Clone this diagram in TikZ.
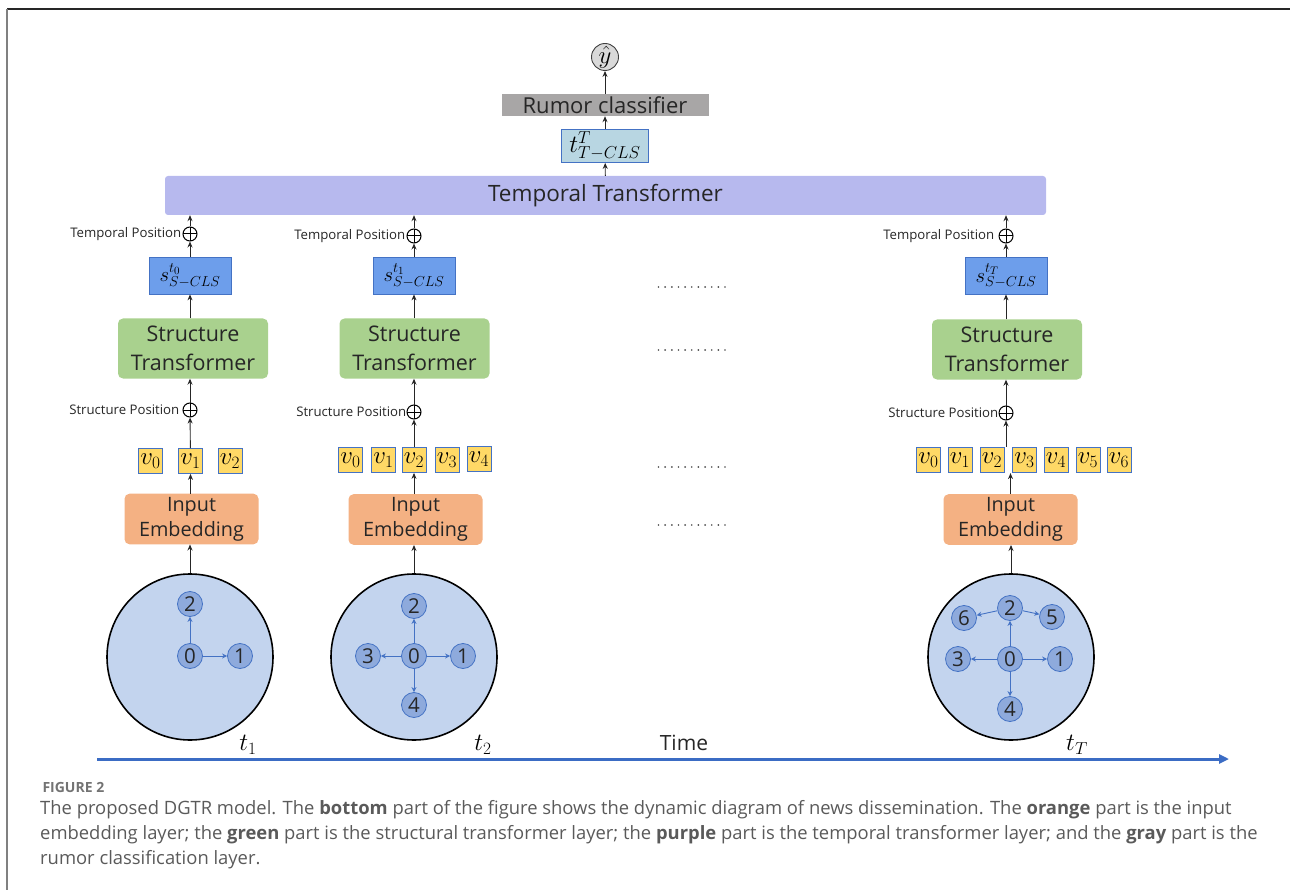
\documentclass[tikz,border=0pt]{standalone}
\usepackage{fontspec}
\setmainfont{Open Sans}
\newfontfamily\capfont{Open Sans}
\usetikzlibrary{arrows.meta,fit,calc}
\definecolor{purp}{HTML}{B7B9EE}
\definecolor{grn}{HTML}{A9D18E}
\definecolor{org}{HTML}{F4B183}
\definecolor{gold}{HTML}{FFD966}
\definecolor{sblue}{HTML}{6D9EEB}
\definecolor{tblue}{HTML}{B8D6E2}
\definecolor{bordblue}{HTML}{4472C4}
\definecolor{clsgray}{HTML}{A8A6A6}
\definecolor{bigfill}{HTML}{C3D4EE}
\definecolor{nodefill}{HTML}{8EAADC}
\definecolor{timeblue}{HTML}{3B6CC4}
\definecolor{captxt}{HTML}{5A5A5A}
\tikzset{
  arr/.style={-{Stealth[length=6pt,width=5pt]}, line width=0.9pt, draw=black!85},
  garr/.style={-{Stealth[length=5pt,width=5pt]}, line width=0.9pt, draw=bordblue},
  stbox/.style={draw=none, fill=grn, rounded corners=5pt, minimum width=150pt, minimum height=60pt, align=center, font=\fontsize{21.5}{29}\selectfont, text=black!85},
  iebox/.style={draw=none, fill=org, rounded corners=5pt, minimum width=134pt, minimum height=47pt, align=center, font=\fontsize{19.8}{25}\selectfont, text=black!85},
  sbox/.style={draw=bordblue, line width=0.8pt, fill=sblue, minimum width=82pt, minimum height=37pt, inner sep=0pt, font=\fontsize{22}{22}\selectfont},
  vbox/.style={draw=bordblue, line width=0.8pt, fill=gold, minimum width=24pt, minimum height=25pt, inner sep=0pt, font=\fontsize{23}{23}\selectfont},
  oplus/.style={circle, draw=black, line width=1pt, minimum size=14pt, inner sep=0pt,
     path picture={\draw[line width=1pt] (path picture bounding box.north) -- (path picture bounding box.south) (path picture bounding box.west) -- (path picture bounding box.east);}},
  poslab/.style={font=\fontsize{13.2}{13.2}\selectfont, text=black!85, inner sep=1pt},
  big/.style={circle, draw=black, line width=1.6pt, fill=bigfill, minimum size=166pt, inner sep=0pt},
  gnode/.style={circle, draw=bordblue, line width=0.8pt, fill=nodefill, minimum size=25pt, inner sep=0pt, font=\fontsize{20.5}{20.5}\selectfont, text=black!85},
  tlab/.style={font=\fontsize{24}{24}\selectfont, inner sep=0pt},
}
\begin{document}
\begin{tikzpicture}[x=1pt,y=-1pt]
\useasboundingbox (0,0) rectangle (1290,890);
% frame
\draw[line width=1.3pt, black!85] (7,9) -- (1290,9);
\draw[line width=1.6pt, black!50] (7,9) -- (7,890);

% top
\node[circle, draw=black!75, line width=0.9pt, fill=black!15, minimum size=27pt, inner sep=0pt, font=\fontsize{24}{24}\selectfont] (yhat) at (605,57) {$\hat{y}$};
\node[fill=clsgray, minimum width=207pt, minimum height=22pt, inner sep=0pt, font=\fontsize{22}{22}\selectfont, text=black!85] (cls) at (605,105) {Rumor classifier};
\node[draw=bordblue, line width=0.8pt, fill=tblue, minimum width=87pt, minimum height=33pt, inner sep=0pt, font=\fontsize{23}{23}\selectfont] (tcls) at (605,146) {$t^{T}_{T-CLS}$};
\node[fill=purp, rounded corners=3pt, minimum width=881pt, minimum height=39pt, inner sep=0pt, font=\fontsize{22.5}{22.5}\selectfont, text=black!85] (tt) at (605.5,195.5) {Temporal Transformer};
\draw[arr] (cls) -- (yhat);
\draw[arr] (tcls) -- (cls);
\draw[arr] (tt) -- (tcls);

% ---------- column 1 ----------
\node[oplus] (tp1) at (190,234) {};
\node[poslab, anchor=east] at (tp1.west) {Temporal Position};
\node[sbox] (s1) at (190,275.5) {$s^{t_0}_{S-CLS}$};
\node[stbox] (st1) at (193,348.5) {Structure\\Transformer};
\node[oplus] (sp1) at (190,410) {};
\node[poslab, anchor=east] at ($(sp1.west)+(-2,0)$) {Structure Position};
\node[vbox] (v10) at (150.5,461) {$v_0$};
\node[vbox] (v11) at (190.5,461) {$v_1$};
\node[vbox] (v12) at (230,461) {$v_2$};
\node[iebox] (ie1) at (191.5,519) {Input\\Embedding};
\node[big] (c1) at (190,657) {};
\node[gnode] (n10) at (190,656) {0};
\node[gnode] (n11) at (240,656) {1};
\node[gnode] (n12) at (190,604) {2};
\draw[garr] (n10) -- (n11);
\draw[garr] (n10) -- (n12);
\node[tlab] at (248,745) {$t_1$};
\draw[arr] (tp1) -- (tp1 |- tt.south);
\draw[arr] (s1) -- (tp1);
\draw[arr] (st1.north -| s1) -- (s1);
\draw[arr] (sp1) -- (sp1 |- st1.south);
\draw[arr] (v11) -- (sp1);
\draw[arr] (ie1.north -| v11) -- (v11);
\draw[arr] (c1) -- (c1 |- ie1.south);

% ---------- column 2 ----------
\node[oplus] (tp2) at (414,236) {};
\node[poslab, anchor=east] at (tp2.west) {Temporal Position};
\node[sbox] (s2) at (414,275.5) {$s^{t_1}_{S-CLS}$};
\node[stbox] (st2) at (414.5,348.5) {Structure\\Transformer};
\node[oplus] (sp2) at (414,412) {};
\node[poslab, anchor=east] at ($(sp2.west)+(1,0)$) {Structure Position};
\node[vbox] (v20) at (350.5,460) {$v_0$};
\node[vbox] (v21) at (383.5,460) {$v_1$};
\node[vbox] (v22) at (414,460) {$v_2$};
\node[vbox] (v23) at (447,460) {$v_3$};
\node[vbox] (v24) at (479,459) {$v_4$};
\node[iebox] (ie2) at (415.5,519.5) {Input\\Embedding};
\node[big] (c2) at (414,657) {};
\node[gnode] (n20) at (414,656) {0};
\node[gnode] (n21) at (463,656) {1};
\node[gnode] (n22) at (414,606) {2};
\node[gnode] (n23) at (368,656) {3};
\node[gnode] (n24) at (414,705) {4};
\draw[garr] (n20) -- (n21);
\draw[garr] (n20) -- (n22);
\draw[garr] (n20) -- (n23);
\draw[garr] (n20) -- (n24);
\node[tlab] at (483,745) {$t_2$};
\draw[arr] (tp2) -- (tp2 |- tt.south);
\draw[arr] (s2) -- (tp2);
\draw[arr] (st2.north -| s2) -- (s2);
\draw[arr] (sp2) -- (sp2 |- st2.south);
\draw[arr] (v22) -- (sp2);
\draw[arr] (ie2.north -| v22) -- (v22);
\draw[arr] (c2) -- (c2 |- ie2.south);

% ---------- column 3 ----------
\node[oplus] (tp3) at (1006,236) {};
\node[poslab, anchor=east] at ($(tp3.west)+(-3,0)$) {Temporal Position};
\node[sbox] (s3) at (1006,275.5) {$s^{t_T}_{S-CLS}$};
\node[stbox] (st3) at (1007,349.5) {Structure\\Transformer};
\node[oplus] (sp3) at (1006,413) {};
\node[poslab, anchor=east] at ($(sp3.west)+(1,0)$) {Structure Position};
\node[vbox] (v30) at (928.5,460) {$v_0$};
\node[vbox] (v31) at (960,460) {$v_1$};
\node[vbox] (v32) at (992,460) {$v_2$};
\node[vbox] (v33) at (1024.5,460) {$v_3$};
\node[vbox] (v34) at (1056,460) {$v_4$};
\node[vbox] (v35) at (1088,460) {$v_5$};
\node[vbox] (v36) at (1119,460) {$v_6$};
\node[inner sep=0pt, fit=(v30)(v36)] (row3) {};
\node[iebox] (ie3) at (1010.5,519.5) {Input\\Embedding};
\node[big] (c3) at (1011,657) {};
\node[gnode] (n30) at (1010,659) {0};
\node[gnode] (n31) at (1060,659) {1};
\node[gnode] (n32) at (1010,608) {2};
\node[gnode] (n33) at (958,659) {3};
\node[gnode] (n34) at (1010,709) {4};
\node[gnode] (n35) at (1052,617) {5};
\node[gnode] (n36) at (964,618) {6};
\draw[garr] (n30) -- (n31);
\draw[garr] (n30) -- (n32);
\draw[garr] (n30) -- (n33);
\draw[garr] (n30) -- (n34);
\draw[garr] (n32) -- (n35);
\draw[garr] (n32) -- (n36);
\node[tlab] at (1077,745) {$t_T$};
\draw[arr] (tp3) -- (tp3 |- tt.south);
\draw[arr] (s3) -- (tp3);
\draw[arr] (st3.north -| s3) -- (s3);
\draw[arr] (sp3) -- (sp3 |- st3.south);
\draw[arr] (sp3 |- row3.north) -- (sp3);
\draw[arr] (ie3.north) -- (ie3.north |- row3.south);
\draw[arr] (c3) -- (c3 |- ie3.south);

% dots
\foreach \yy in {287,350,467,525}{
  \foreach \i in {0,...,10}{
    \fill[black!70] ({658.5+6.65*\i},\yy) circle (0.95pt);
  }
}

% time axis
\coordinate (t0) at (97,759);
\coordinate (t1) at (1229,759);
\draw[line width=3pt, draw=timeblue, -{Triangle[length=10pt,width=9pt]}] (t0) -- (t1);
\node[font=\fontsize{21}{21}\selectfont, text=black!85] at (684,743) {Time};

% caption
\node[anchor=west, font=\capfont\fontsize{14}{14}\bfseries\selectfont, text=black!55] at (39,787) {FIGURE 2};
\node[anchor=north west, align=left, inner sep=0pt, font=\capfont\fontsize{18.4}{25}\selectfont, text=captxt] at (40,800) {The proposed DGTR model. The \textbf{bottom} part of the figure shows the dynamic diagram of news dissemination. The \textbf{orange} part is the input\\embedding layer; the \textbf{green} part is the structural transformer layer; the \textbf{purple} part is the temporal transformer layer; and the \textbf{gray} part is the\\rumor classification layer.};
\end{tikzpicture}
\end{document}
